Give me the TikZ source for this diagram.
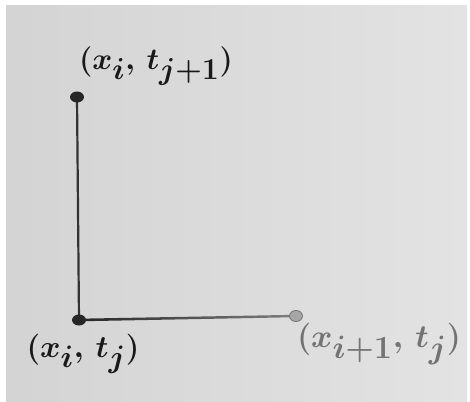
\documentclass[tikz,border=0pt]{standalone}
\usepackage{fontspec}
\usetikzlibrary{shapes.geometric}
\begin{document}
\begin{tikzpicture}[x=1pt,y=-1pt,
  pencil/.style={draw=black!80, line width=2.2pt, line cap=round},
  dot/.style={ellipse, fill=black!85, minimum width=14pt, minimum height=11pt, inner sep=0pt},
  lightdot/.style={ellipse, fill=black!35, draw=black!55, line width=0.8pt, minimum width=13pt, minimum height=11pt, inner sep=0pt},
  lbl/.style={font=\fontsize{40}{44}\selectfont\boldmath, text=black!90, inner sep=0pt},
  graylbl/.style={font=\fontsize{40}{44}\selectfont\boldmath, text=black!55, inner sep=0pt}]
\useasboundingbox (0,0) rectangle (470,401);
\fill[white] (0,0) rectangle (470,401);
\shade[left color=black!17, right color=black!11] (6,6) rectangle (467,401);
\coordinate (A) at (77,97);
\coordinate (B) at (79,320);
\coordinate (C) at (296,316);
\draw[pencil] (A) -- (B);
\shade[left color=black!85, right color=black!50] (79,318.7) -- (296,314.8) -- (296,317.2) -- (79,321.3) -- cycle;
\node[dot] (a) at (A) {};
\node[dot] (b) at (B) {};
\node[lightdot] (c) at (C) {};
\node[lbl, anchor=center] (la) at (156,66) {\scalebox{1.22}{$(x_i,\,t_{j+1})$}};
\node[lbl, anchor=center] (lb) at (83,354) {\scalebox{1.25}{$(x_i,\,t_j)$}};
\node[graylbl, anchor=center] (lc) at (379,344) {\scalebox{1.3}{$(x_{i+1},\,t_j)$}};
\end{tikzpicture}
\end{document}
